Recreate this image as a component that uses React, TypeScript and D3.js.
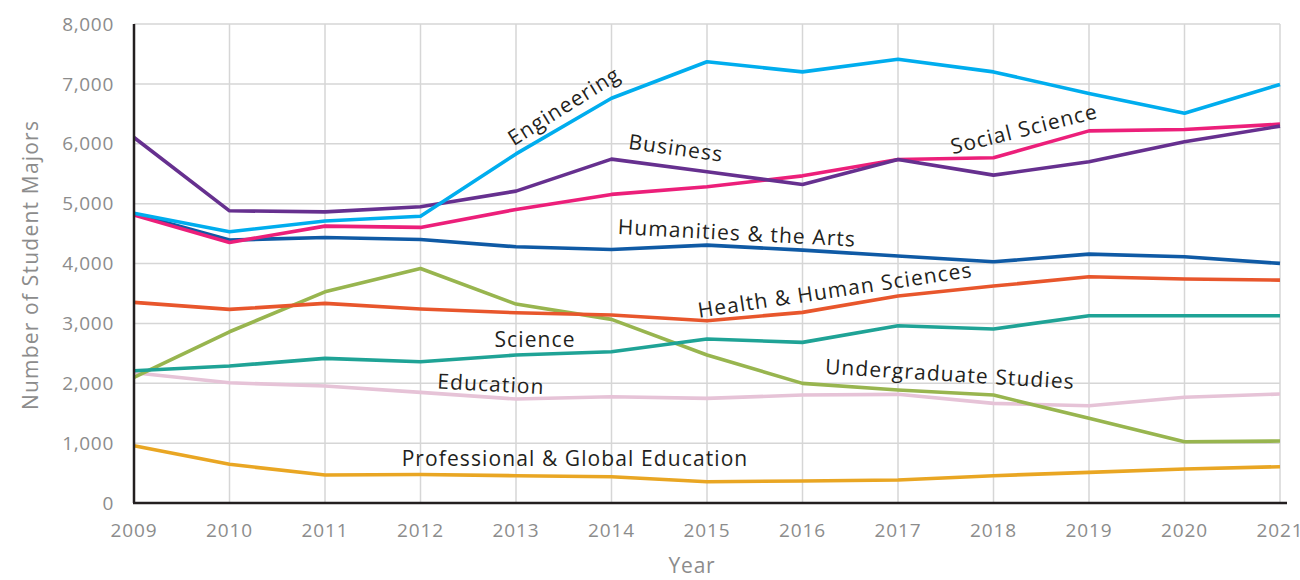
import React from "react";
import * as d3 from "d3";

const years = [2009, 2010, 2011, 2012, 2013, 2014, 2015, 2016, 2017, 2018, 2019, 2020, 2021];
const yTicks = [0, 1000, 2000, 3000, 4000, 5000, 6000, 7000, 8000];

const engineering = [4840, 4530, 4710, 4790, 5830, 6760, 7370, 7200, 7410, 7200, 6840, 6510, 6990];
const business = [6105, 4880, 4863, 4947, 5209, 5743, 5531, 5320, 5738, 5476, 5698, 6032, 6294];
const socialScience = [4808, 4352, 4624, 4603, 4903, 5154, 5281, 5464, 5738, 5765, 6215, 6238, 6327];
const humanities = [4830, 4391, 4435, 4402, 4279, 4235, 4307, 4224, 4124, 4028, 4157, 4112, 4002];
const health = [3350, 3234, 3334, 3240, 3177, 3139, 3044, 3184, 3456, 3623, 3778, 3740, 3723];
const science = [2209, 2287, 2416, 2359, 2471, 2526, 2738, 2683, 2960, 2905, 3127, 3127, 3127];
const undergraduate = [2098, 2860, 3527, 3917, 3322, 3067, 2471, 1998, 1886, 1803, 1414, 1023, 1035];
const education = [2175, 2008, 1953, 1848, 1736, 1775, 1748, 1803, 1815, 1664, 1624, 1765, 1820];
const professional = [957, 646, 467, 475, 456, 439, 356, 367, 384, 456, 512, 568, 606];

const seriesNames = [
  "Education",
  "Professional & Global Education",
  "Undergraduate Studies",
  "Science",
  "Health & Human Sciences",
  "Humanities & the Arts",
  "Social Science",
  "Business",
  "Engineering",
];
const seriesValues = [education, professional, undergraduate, science, health, humanities, socialScience, business, engineering];
const seriesColors = ["#e6c3d7", "#e9a623", "#98b54f", "#1fa396", "#e8562c", "#0f5aa5", "#ec1f7a", "#66308f", "#00adee"];

// label placement (style, not data)
const labelPos: Record<string, { x: number; y: number; r: number }> = {
  Engineering: { x: 564, y: 106, r: -32 },
  Business: { x: 676, y: 148, r: 8 },
  "Social Science": { x: 1024, y: 129, r: -14 },
  "Humanities & the Arts": { x: 737, y: 233, r: 3 },
  "Health & Human Sciences": { x: 835, y: 290, r: -8.5 },
  Science: { x: 535, y: 340, r: 0 },
  Education: { x: 491, y: 384, r: 3 },
  "Undergraduate Studies": { x: 950, y: 374, r: 3.5 },
  "Professional & Global Education": { x: 575, y: 459, r: 0 },
};

export default function App() {
  const width = 1300;
  const height = 580;
  const left = 134;
  const right = 1280;
  const top = 24;
  const bottom = 503;

  const x = d3.scaleLinear().domain([2009, 2021]).range([left, right]);
  const y = d3.scaleLinear().domain([0, 8000]).range([bottom, top]);
  const line = d3
    .line<number>()
    .x((_, i) => x(years[i]))
    .y((d) => y(d));

  const font = "'Open Sans', 'Noto Sans', sans-serif";
  const fmt = d3.format(",");

  return (
    <svg width={width} height={height} style={{ position: "absolute", left: 0, top: 0, background: "#fff" }}>
      <g>
        {yTicks.slice(1).map((t) => (
          <line key={"h" + t} x1={left} x2={right} y1={y(t)} y2={y(t)} stroke="#d6d6d6" strokeWidth={1.5} />
        ))}
        {years.slice(1).map((yr) => (
          <line key={"v" + yr} x1={x(yr)} x2={x(yr)} y1={top} y2={bottom} stroke="#d6d6d6" strokeWidth={1.5} />
        ))}
      </g>
      <g>
        {seriesValues.map((vals, i) => (
          <path
            key={seriesNames[i]}
            d={line(vals) || ""}
            fill="none"
            stroke={seriesColors[i]}
            strokeWidth={3.6}
            strokeLinejoin="round"
          />
        ))}
      </g>
      <line x1={left} x2={left} y1={top} y2={bottom} stroke="#231f20" strokeWidth={2.5} />
      <line x1={left - 1} x2={1287} y1={bottom} y2={bottom} stroke="#231f20" strokeWidth={2.5} />
      <g fontFamily={font} fill="#8c8c8c" fontSize={19}>
        {yTicks.map((t) => (
          <text key={"yt" + t} x={114} y={y(t)} dy="0.35em" textAnchor="end" letterSpacing={0.7}>
            {fmt(t)}
          </text>
        ))}
        {years.map((yr) => (
          <text key={"xt" + yr} x={x(yr)} y={530} dy="0.35em" textAnchor="middle" letterSpacing={0.9}>
            {yr}
          </text>
        ))}
        <text x={692} y={573} textAnchor="middle" fontSize={21} letterSpacing={0.8}>
          Year
        </text>
        <text
          transform="translate(31,265) rotate(-90)"
          dy="0.35em"
          textAnchor="middle"
          fontSize={21}
          letterSpacing={1.2}
        >
          Number of Student Majors
        </text>
      </g>
      <g fontFamily={font} fill="#231f20" fontSize={21} letterSpacing={1.1}>
        {seriesNames.map((n) => {
          const p = labelPos[n];
          return (
            <text key={"l" + n} transform={`translate(${p.x},${p.y}) rotate(${p.r})`} dy="0.35em" textAnchor="middle">
              {n}
            </text>
          );
        })}
      </g>
    </svg>
  );
}
